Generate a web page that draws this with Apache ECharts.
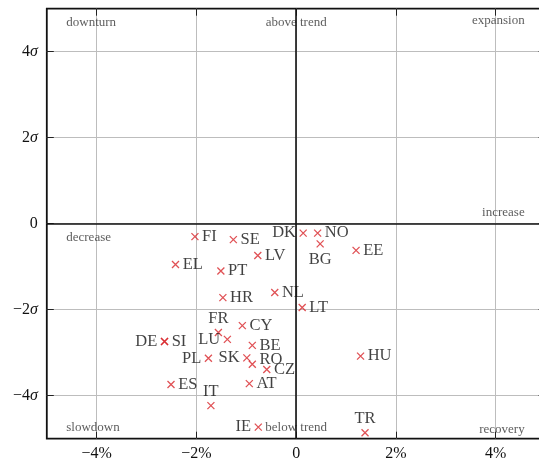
<!DOCTYPE html>
<html>
<head>
<meta charset="utf-8">
<script src="https://cdn.jsdelivr.net/npm/echarts@6/dist/echarts.min.js"></script>
<style>
  html, body { margin: 0; padding: 0; background: #fff; }
  #chart { width: 539px; height: 464px; }
</style>
</head>
<body>
<div id="chart"></div>
<script>
// Output gap (% from trend) versus change, in standard deviations, per country
const countries = ['FI','SE','LV','EL','PT','HR','FR','CY','LU','DE','SI','BE','PL','SK',
                   'RO','CZ','AT','ES','IT','IE','DK','NO','BG','EE','NL','LT','HU','TR'];
const gapPct   = [-2.03,-1.26,-0.77,-2.42,-1.51,-1.47,-1.56,-1.08,-1.38,-2.64,-2.64,-0.88,-1.76,-0.99,
                  -0.88,-0.59,-0.94,-2.51,-1.71,-0.76, 0.14, 0.43, 0.48, 1.20,-0.43, 0.12, 1.29, 1.38];
const changeSd = [-0.30,-0.37,-0.74,-0.95,-1.10,-1.72,-2.53,-2.37,-2.69,-2.74,-2.74,-2.83,-3.13,-3.12,
                  -3.27,-3.39,-3.72,-3.74,-4.23,-4.73,-0.22,-0.22,-0.47,-0.62,-1.60,-1.95,-3.08,-4.86];
const labelSide = ['right','right','right','right','right','right','top','right','left','left','right','right','left','left',
                   'right','right','right','right','top','left','left','right','bottom','right','right','right','right','top'];

// Quadrant / region captions
const regionNames = ['downturn','above trend','expansion','increase','decrease','slowdown','below trend','recovery'];
const regionX     = [-4.62, 0, 4.59, 4.59, -4.62, -4.62, 0, 4.59];
const regionY     = [ 4.68, 4.68, 4.72, 0.27, -0.33, -4.73, -4.73, -4.78];
const regionAlign = ['left','center','right','right','left','left','center','right'];

// Axis ticks
const xTickValues = [-4, -2, 0, 2, 4];
const xTickLabels = ['\u22124%', '\u22122%', '0', '2%', '4%'];
const yTickValues = [-4, -2, 0, 2, 4];
const yTickLabels = ['\u22124\u03c3', '\u22122\u03c3', '0', '2\u03c3', '4\u03c3'];

const SERIF = '"Liberation Serif", "DejaVu Serif", serif';
const TEXT = '#111';

function tickText(values, labels) {
  return function (v) {
    const i = values.indexOf(v);
    if (i < 0) return '';
    return labels[i].replace('\u03c3', '{s|\u03c3}');
  };
}

const pointData = countries.map((c, i) => ({
  name: c,
  value: [gapPct[i], changeSd[i]],
  label: { position: labelSide[i], distance: labelSide[i] === 'top' ? 1 : 3,
           offset: c === 'RO' ? [0, -5] : [0, 0] }
}));

const regionData = regionNames.map((n, i) => ({
  name: n,
  value: [regionX[i], regionY[i]],
  label: {
    position: regionAlign[i] === 'left' ? 'right' : (regionAlign[i] === 'right' ? 'left' : 'inside'),
    distance: 0
  }
}));

const crossPath = 'path://M0,0L10,10M10,0L0,10';

function sideAxis(pos, withLabels, values, labels, margin) {
  return {
    type: 'value', min: -5, max: 5, position: pos,
    axisLine: { show: false, onZero: false },
    axisTick: { show: true, inside: true, length: 7, customValues: values,
                lineStyle: { color: '#222', width: 1 } },
    axisLabel: withLabels ? {
      show: true, customValues: values, margin: margin,
      formatter: tickText(values, labels),
      fontFamily: SERIF, fontSize: 16, color: TEXT,
      rich: { s: { fontFamily: SERIF, fontSize: 16, fontStyle: 'italic', color: TEXT } }
    } : { show: false },
    splitLine: withLabels ? { show: true, lineStyle: { color: '#bdbdbd', width: 1 } } : { show: false }
  };
}

const chart = echarts.init(document.getElementById('chart'), null, { renderer: 'canvas' });
chart.setOption({
  animation: false,
  backgroundColor: '#fff',
  grid: {
    left: 46.8, right: -6.6, top: 8.7, bottom: 25.3,
    show: true, borderColor: '#111', borderWidth: 1.8,
    containLabel: false, outerBoundsMode: 'none'
  },
  xAxis: [
    sideAxis('bottom', true, xTickValues, xTickLabels, 7),
    sideAxis('top', false, xTickValues, xTickLabels, 0)
  ],
  yAxis: [
    sideAxis('left', true, yTickValues, yTickLabels, 9),
    sideAxis('right', false, yTickValues, yTickLabels, 0)
  ],
  series: [{
    name: 'countries',
    type: 'scatter',
    xAxisIndex: 0, yAxisIndex: 0,
    symbol: crossPath,
    symbolSize: 7,
    itemStyle: { color: 'transparent', borderColor: '#d8262b', borderWidth: 1.3 },
    label: {
      show: true, formatter: '{b}',
      fontFamily: SERIF, fontSize: 16.5, color: TEXT
    },
    data: pointData,
    markLine: {
      silent: true, symbol: 'none', animation: false,
      label: { show: false },
      lineStyle: { color: '#111', width: 1.6, type: 'solid' },
      data: [{ xAxis: 0 }, { yAxis: 0 }]
    },
    z: 3
  }, {
    name: 'regions',
    type: 'scatter',
    xAxisIndex: 0, yAxisIndex: 0,
    symbol: 'circle', symbolSize: 1,
    itemStyle: { color: 'transparent' },
    silent: true,
    label: {
      show: true, formatter: '{b}',
      fontFamily: SERIF, fontSize: 13, color: '#333'
    },
    data: regionData,
    z: 4
  }]
});
</script>
</body>
</html>
